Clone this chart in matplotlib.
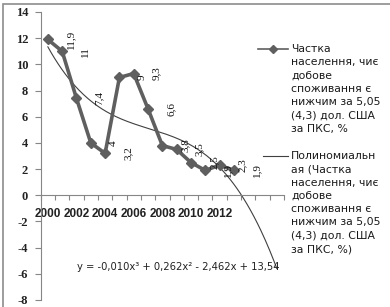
import numpy as np
import matplotlib
matplotlib.use("Agg")
import matplotlib.pyplot as plt
from matplotlib.lines import Line2D
from matplotlib.patches import Rectangle

# ---- data ----
years = [2000, 2001, 2002, 2003, 2004, 2005, 2006, 2007, 2008, 2009, 2010, 2011, 2012, 2013]
values = [11.9, 11.0, 7.4, 4.0, 3.2, 9.0, 9.3, 6.6, 3.8, 3.5, 2.5, 1.9, 2.3, 1.9]
value_labels = ["11,9", "11", "7,4", "4", "3,2", "9", "9,3", "6,6", "3,8", "3,5", "2,5", "1,9", "2,3", "1,9"]
tick_years = ["2000", "2002", "2004", "2006", "2008", "2010", "2012"]
forecast_periods = 3
equation = "y = -0,010x³ + 0,262x² - 2,462x + 13,54"
legend1 = ["Частка", "населення, чиє", "добове", "споживання є",
           "нижчим за 5,05", "(4,3) дол. США", "за ПКС, %"]
legend2 = ["Полиномиальн", "ая (Частка", "населення, чиє", "добове",
           "споживання є", "нижчим за 5,05", "(4,3) дол. США", "за ПКС, %)"]

W, H = 390, 307
fig = plt.figure(figsize=(W / 100, H / 100), dpi=100)
fig.patch.set_facecolor("white")

def fx(px):
    return px / W

def fy(py):
    return 1 - py / H

ax_left, ax_right, ax_top, ax_bot = 40.7, 284, 12, 300
ax = fig.add_axes([fx(ax_left), fy(ax_bot), fx(ax_right - ax_left), (ax_bot - ax_top) / H])
ax.set_facecolor("none")

n = len(values)
ncat = n + forecast_periods
cat = np.arange(n)

# trendline (cubic fit with x = 1..n as Excel does)
xs = np.arange(1, n + 1)
coef = np.polyfit(xs, values, 3)
xt = np.linspace(1, n + forecast_periods, 200)
ax.plot(xt - 1, np.polyval(coef, xt), color="#404040", lw=0.8, zorder=2)

# main series
ax.plot(cat, values, color="#5f5f5f", lw=2.6, marker="D", ms=5.5,
        mfc="#5f5f5f", mec="#5f5f5f", zorder=3)

for i, (v, lab) in enumerate(zip(values, value_labels)):
    ax.annotate(lab, (i, v), xytext=(16.5, 0), textcoords="offset points",
                rotation=90, ha="center", va="center", fontsize=8,
                family="Liberation Serif", color="#111111", zorder=4)

ax.set_xlim(-0.5, ncat - 0.5)
ax.set_ylim(-8, 14)

for s in ["top", "right"]:
    ax.spines[s].set_visible(False)
ax.spines["bottom"].set_position(("data", 0))
ax.spines["bottom"].set_color("#868686")
ax.spines["left"].set_color("#868686")
ax.spines["bottom"].set_linewidth(0.8)
ax.spines["left"].set_linewidth(0.8)

ax.set_yticks(np.arange(-8, 15, 2))
ax.set_yticklabels([str(v) for v in range(-8, 15, 2)], family="Liberation Serif",
                   fontweight="bold", fontsize=9, color="#222222")
ax.tick_params(axis="y", direction="out", length=4, color="#868686", pad=5)

ax.set_xticks(np.arange(-0.5, ncat, 1.0))
ax.set_xticklabels([])
ax.tick_params(axis="x", which="major", direction="out", length=3.5, color="#868686")
ax.set_xticks([years.index(int(t)) for t in tick_years], minor=True)
ax.set_xticklabels(tick_years, minor=True, family="Liberation Sans", fontweight="bold",
                   fontsize=8.5, color="#222222")
ax.tick_params(axis="x", which="minor", length=0, pad=9)

# equation
fig.text(fx(77), fy(267), equation, fontsize=7.2, family="DejaVu Sans",
         color="#222222", ha="left", va="center")

# legend
fig.add_artist(Line2D([fx(258), fx(288)], [fy(49), fy(49)], color="#5f5f5f", lw=1.2,
                      marker=None, transform=fig.transFigure))
fig.add_artist(Line2D([fx(273)], [fy(49)], color="#5f5f5f", marker="D", ms=4,
                      transform=fig.transFigure))
fig.add_artist(Line2D([fx(263), fx(288)], [fy(156), fy(156)], color="#404040", lw=0.8,
                      transform=fig.transFigure))
step = 13.3
for k, t in enumerate(legend1):
    fig.text(fx(291), fy(49 + k * step), t, fontsize=7.8, family="DejaVu Sans",
             color="#1a1a1a", ha="left", va="center")
for k, t in enumerate(legend2):
    fig.text(fx(291), fy(156 + k * step), t, fontsize=7.8, family="DejaVu Sans",
             color="#1a1a1a", ha="left", va="center")

# chart border
fig.add_artist(Rectangle((fx(3), fy(H + 5)), fx(W + 5), (H + 5 - 4) / H,
                         transform=fig.transFigure, fill=False,
                         edgecolor="#8c8c8c", lw=1.2))

fig.savefig("out.png", dpi=100)
